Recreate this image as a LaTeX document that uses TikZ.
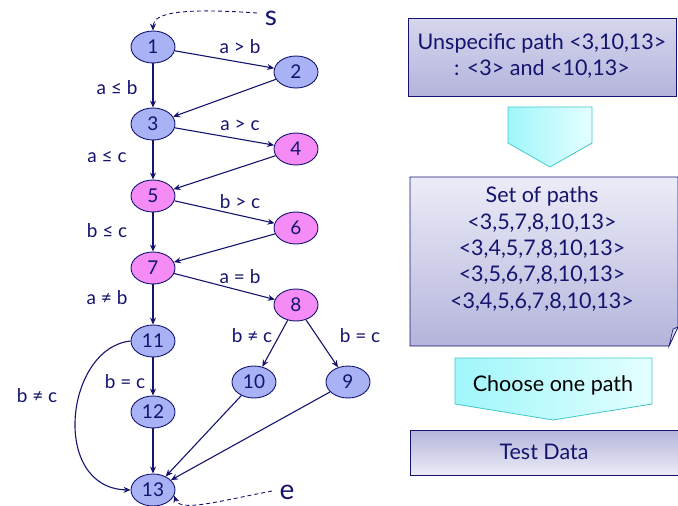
\documentclass[tikz,border=0pt]{standalone}
\usepackage{fontspec}
\setmainfont{Lato}
\usetikzlibrary{shapes.geometric,arrows.meta}
\definecolor{ink}{RGB}{20,20,110}
\definecolor{nblue}{RGB}{168,178,245}
\definecolor{npink}{RGB}{245,140,245}
\definecolor{boxlight}{RGB}{236,236,248}
\definecolor{boxmid}{RGB}{214,214,238}
\definecolor{boxdark}{RGB}{180,180,220}
\definecolor{cyanl}{RGB}{160,246,250}
\definecolor{cyanr}{RGB}{228,255,255}
\definecolor{cyanb}{RGB}{64,200,200}
\begin{document}
\begin{tikzpicture}[x=1pt,y=-1pt,
  vert/.style={ellipse,draw=ink,line width=0.9pt,minimum width=44pt,minimum height=32pt,
    inner sep=0pt,font=\fontsize{19}{19}\selectfont,text=ink},
  bv/.style={vert,fill=nblue},
  pv/.style={vert,fill=npink},
  edge/.style={draw=ink,line width=1.1pt,-{Stealth[length=7pt,width=6pt]}},
  dashedge/.style={draw=ink,line width=0.9pt,dash pattern=on 4pt off 3pt,-{Stealth[length=7pt,width=6pt]}},
  lbl/.style={font=\fontsize{19}{19}\selectfont,text=ink,inner sep=0pt},
  term/.style={font=\fontsize{28}{28}\selectfont,text=ink,inner sep=0pt},
  boxtext/.style={font=\fontsize{21.5}{26}\selectfont,text=ink,align=center,inner sep=0pt},
  infobox/.style={draw=ink,line width=0.8pt,minimum width=268pt,inner sep=0pt}]
\useasboundingbox (0,0) rectangle (678,506);

% control flow graph vertices
\node[bv] (n1) at (153,47) {1};
\node[bv] (n2) at (296,72) {2};
\node[bv] (n3) at (153,124) {3};
\node[pv] (n4) at (296,149) {4};
\node[pv] (n5) at (153,196) {5};
\node[pv] (n6) at (296,228) {6};
\node[pv] (n7) at (153,268) {7};
\node[pv] (n8) at (296,305) {8};
\node[bv] (n11) at (153,341) {11};
\node[bv] (n10) at (254,382) {10};
\node[bv] (n9) at (348,382) {9};
\node[bv] (n12) at (153,412) {12};
\node[bv] (n13) at (153,490) {13};

% entry and exit markers
\node[term] (s) at (271,18) {s};
\node[term] (e) at (287,492) {e};
\coordinate (sstart) at (257,13);
\coordinate (estart) at (272,491);
\draw[dashedge] (sstart) .. controls (185,8) and (153,12) .. (n1.north);
\draw[dashedge] (estart) .. controls (215,502) and (180,512) .. (n13.-15);

% edges
\draw[edge] (n1) -- (n2);
\draw[edge] (n1) -- (n3);
\draw[edge] (n2) -- (n3);
\draw[edge] (n3) -- (n4);
\draw[edge] (n3) -- (n5);
\draw[edge] (n4) -- (n5);
\draw[edge] (n5) -- (n6);
\draw[edge] (n5) -- (n7);
\draw[edge] (n6) -- (n7);
\draw[edge] (n7) -- (n8);
\draw[edge] (n7) -- (n11);
\draw[edge] (n8) -- (n10);
\draw[edge] (n8) -- (n9);
\draw[edge] (n11) -- (n12);
\draw[edge] (n12) -- (n13);
\draw[edge] (n10) -- (n13);
\draw[edge] (n9) -- (n13);
\draw[edge] (n11.west) .. controls (65,348) and (50,488) .. (n13.west);

% edge labels
\node[lbl] (l12) at (240,47) {a > b};
\node[lbl] (l13) at (117,88) {a ≤ b};
\node[lbl] (l34) at (240,125) {a > c};
\node[lbl] (l35) at (107,157) {a ≤ c};
\node[lbl] (l56) at (240,202) {b > c};
\node[lbl] (l57) at (107,231) {b ≤ c};
\node[lbl] (l78) at (240,277) {a = b};
\node[lbl] (l711) at (107,298) {a ≠ b};
\node[lbl] (l810) at (252,336) {b ≠ c};
\node[lbl] (l89) at (360,336) {b = c};
\node[lbl] (l1112) at (125,382) {b = c};
\node[lbl] (l1113) at (37,396) {b ≠ c};

% right-hand process boxes
\node[infobox,minimum height=78pt,top color=boxmid,bottom color=boxdark] (unspec) at (542,57) {};
\node[boxtext] (unspect) at (542,56) {Unspecific path <3,10,13>\\: <3> and <10,13>};

\shade[left color=cyanl,right color=cyanr] (508,107) -- (592,107) -- (592,143) -- (550,167) -- (508,143) -- cycle;
\draw[cyanb,line width=0.8pt] (508,107) -- (592,107) -- (592,143) -- (550,167) -- (508,143) -- cycle;

\shade[top color=boxlight,bottom color=boxdark] (410,177) -- (678,177) -- (678,327) -- (669,346) -- (410,346) -- cycle;
\draw[ink,line width=0.8pt] (410,177) -- (678,177) -- (678,327) -- (669,346) -- (410,346) -- cycle;
\filldraw[fill=boxmid,draw=ink,line width=0.6pt] (669,346) .. controls (671,338) and (672,333) .. (673,329) -- (678,327) -- cycle;
\node[boxtext,font=\fontsize{21.5}{26.3}\selectfont] (paths) at (542,249) {Set of paths\\<3,5,7,8,10,13>\\<3,4,5,7,8,10,13>\\<3,5,6,7,8,10,13>\\<3,4,5,6,7,8,10,13>};

\shade[left color=cyanl,right color=cyanr] (455,358) -- (652,358) -- (652,404) -- (553,420) -- (455,404) -- cycle;
\draw[cyanb,line width=0.8pt] (455,358) -- (652,358) -- (652,404) -- (553,420) -- (455,404) -- cycle;
\node[boxtext,text=black] (choose) at (553,385) {Choose one path};

\node[infobox,minimum height=45pt,top color=boxdark,bottom color=boxlight] (tdata) at (544,452.5) {};
\node[boxtext] (tdatat) at (544,452) {Test Data};
\end{tikzpicture}
\end{document}
